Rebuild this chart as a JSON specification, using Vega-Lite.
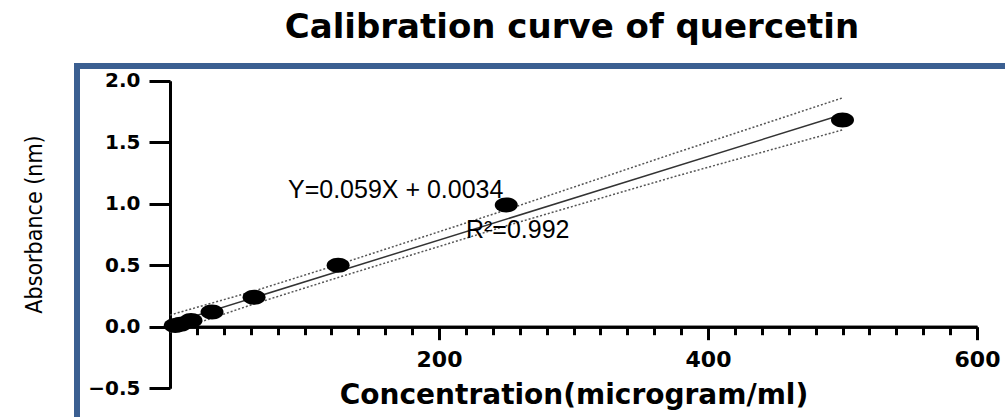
{
  "$schema": "https://vega.github.io/schema/vega-lite/v6.json",
  "width": 990,
  "height": 371,
  "autosize": {"type": "none"},
  "padding": {"left": 77, "top": 66, "right": -62, "bottom": -20},
  "background": "white",
  "title": {
    "text": "Calibration curve of quercetin",
    "font": "DejaVu Sans",
    "fontSize": 34,
    "fontWeight": "bold",
    "color": "black",
    "anchor": "middle",
    "frame": "group",
    "baseline": "alphabetic",
    "offset": -6
  },
  "config": {
    "view": {"stroke": "#3b5f91", "strokeWidth": 6},
    "axis": {
      "domainColor": "black",
      "tickColor": "black",
      "labelColor": "black",
      "titleColor": "black",
      "domainWidth": 3,
      "tickWidth": 3,
      "grid": false
    }
  },
  "datasets": {
    "points": [
      {"x": 3.9, "y": 0.01},
      {"x": 7.8, "y": 0.02},
      {"x": 15.6, "y": 0.05},
      {"x": 31.25, "y": 0.12},
      {"x": 62.5, "y": 0.24},
      {"x": 125, "y": 0.5},
      {"x": 250, "y": 0.99},
      {"x": 500, "y": 1.68}
    ],
    "fit": [
      {"x": 0, "y": 0.024},
      {"x": 500, "y": 1.725}
    ],
    "bands": [
      {"band": "upper", "x": 0, "y": 0.095},
      {"band": "upper", "x": 62.5, "y": 0.29},
      {"band": "upper", "x": 125, "y": 0.505},
      {"band": "upper", "x": 250, "y": 0.95},
      {"band": "upper", "x": 375, "y": 1.41},
      {"band": "upper", "x": 500, "y": 1.86},
      {"band": "lower", "x": 0, "y": -0.045},
      {"band": "lower", "x": 62.5, "y": 0.185},
      {"band": "lower", "x": 125, "y": 0.4},
      {"band": "lower", "x": 250, "y": 0.82},
      {"band": "lower", "x": 375, "y": 1.22},
      {"band": "lower", "x": 500, "y": 1.6}
    ],
    "notes": [
      {"x": 87.7, "y": 1.046, "label": "Y=0.059X + 0.0034"},
      {"x": 220, "y": 0.721, "label": "R²=0.992"}
    ]
  },
  "encoding": {
    "y": {
      "field": "y",
      "type": "quantitative",
      "scale": {"domain": [-0.5, 2], "range": [322.2, 14.7], "nice": false, "zero": false},
      "axis": {
        "orient": "left",
        "offset": -93,
        "values": [-0.5, 0, 0.5, 1, 1.5, 2],
        "format": ".1f",
        "tickSize": 21,
        "labelPadding": 9,
        "labelFont": "DejaVu Sans",
        "labelFontSize": 20,
        "labelFontWeight": "bold",
        "labelFlush": false,
        "labelOverlap": false,
        "title": "Absorbance (nm)",
        "titleFont": "Liberation Sans Narrow, DejaVu Sans Condensed, Roboto",
        "titleFontSize": 23,
        "titleFontWeight": "normal",
        "titleX": -124,
        "titleY": 158
      }
    }
  },
  "layer": [
    {
      "data": {"name": "bands"},
      "mark": {"type": "line", "color": "#555555", "strokeWidth": 1.5, "strokeDash": [2, 2]},
      "encoding": {
        "x": {
          "field": "x",
          "type": "quantitative",
          "scale": {"domain": [0, 600], "range": [93, 900], "nice": false, "zero": false},
          "axis": {
            "orient": "bottom",
            "offset": -110.3,
            "values": [20, 40, 60, 80, 100, 120, 140, 160, 180, 220, 240, 260, 280, 300, 320, 340, 360, 380, 420, 440, 460, 480, 500, 520, 540, 560, 580],
            "tickSize": 8,
            "labels": false,
            "title": null
          }
        },
        "detail": {"field": "band", "type": "nominal"}
      }
    },
    {
      "data": {"name": "fit"},
      "mark": {"type": "line", "color": "#333333", "strokeWidth": 1.5},
      "encoding": {
        "x": {
          "field": "x",
          "type": "quantitative",
          "scale": {"domain": [0, 600], "range": [93, 900], "nice": false, "zero": false},
          "axis": {
            "orient": "bottom",
            "offset": -110.3,
            "values": [200, 400, 600],
            "tickSize": 13,
            "labelPadding": 10,
            "labelFont": "DejaVu Sans",
            "labelFontSize": 22,
            "labelFontWeight": "bold",
            "labelFlush": false,
            "title": "Concentration(microgram/ml)",
            "titleFont": "DejaVu Sans",
            "titleFontSize": 28,
            "titleFontWeight": "bold",
            "titlePadding": 11
          }
        }
      }
    },
    {
      "data": {"name": "points"},
      "mark": {
        "type": "point",
        "shape": "M-1,0A1,0.65,0,1,0,1,0A1,0.65,0,1,0,-1,0Z",
        "size": 529,
        "filled": true,
        "color": "black",
        "opacity": 1
      },
      "encoding": {
        "x": {"field": "x", "type": "quantitative", "scale": {"domain": [0, 600], "range": [93, 900], "nice": false, "zero": false}, "axis": null}
      }
    },
    {
      "data": {"name": "notes"},
      "mark": {"type": "text", "align": "left", "baseline": "alphabetic", "font": "Liberation Sans", "fontSize": 25, "color": "black"},
      "encoding": {
        "x": {"field": "x", "type": "quantitative", "scale": {"domain": [0, 600], "range": [93, 900], "nice": false, "zero": false}, "axis": null},
        "text": {"field": "label", "type": "nominal"}
      }
    }
  ],
  "resolve": {"axis": {"x": "independent"}}
}
